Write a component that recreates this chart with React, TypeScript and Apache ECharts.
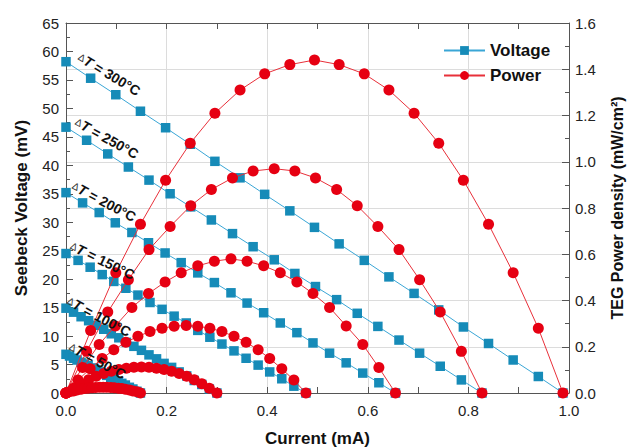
import React, { useEffect, useRef } from 'react';
import * as echarts from 'echarts';

// Current (mA), Seebeck voltage (mV), power density (mW/cm2) for each ΔT
const current300 = [0, 0.049, 0.099, 0.148, 0.198, 0.247, 0.296, 0.346, 0.395, 0.445, 0.494, 0.543, 0.593, 0.642, 0.692, 0.741, 0.790, 0.840, 0.889, 0.939, 0.988];
const voltage300 = [58.2, 55.3, 52.4, 49.5, 46.6, 43.7, 40.7, 37.8, 34.9, 32.0, 29.1, 26.2, 23.3, 20.4, 17.5, 14.6, 11.6, 8.7, 5.8, 2.9, 0];
const power300 = [0, 0.27, 0.52, 0.73, 0.92, 1.08, 1.21, 1.31, 1.38, 1.42, 1.44, 1.42, 1.38, 1.31, 1.21, 1.08, 0.92, 0.73, 0.52, 0.28, 0];

const current250 = [0, 0.041, 0.083, 0.124, 0.165, 0.207, 0.248, 0.289, 0.331, 0.372, 0.414, 0.455, 0.496, 0.538, 0.579, 0.620, 0.662, 0.703, 0.744, 0.786, 0.827];
const voltage250 = [46.7, 44.4, 42.0, 39.7, 37.4, 35.0, 32.7, 30.4, 28.0, 25.7, 23.4, 21.0, 18.7, 16.4, 14.0, 11.7, 9.3, 7.0, 4.7, 2.3, 0];
const power250 = [0, 0.18, 0.35, 0.49, 0.62, 0.72, 0.81, 0.88, 0.93, 0.96, 0.97, 0.96, 0.93, 0.88, 0.81, 0.72, 0.62, 0.49, 0.35, 0.18, 0];

const current200 = [0, 0.033, 0.066, 0.098, 0.131, 0.164, 0.197, 0.229, 0.262, 0.295, 0.328, 0.360, 0.393, 0.426, 0.459, 0.491, 0.524, 0.557, 0.590, 0.622, 0.655];
const voltage200 = [35.2, 33.4, 31.7, 29.9, 28.2, 26.4, 24.6, 22.9, 21.1, 19.4, 17.6, 15.8, 14.1, 12.3, 10.6, 8.8, 7.0, 5.3, 3.5, 1.8, 0];
const power200 = [0, 0.11, 0.21, 0.29, 0.37, 0.43, 0.48, 0.52, 0.55, 0.57, 0.58, 0.57, 0.55, 0.52, 0.48, 0.43, 0.37, 0.29, 0.21, 0.11, 0];

const current150 = [0, 0.024, 0.048, 0.072, 0.095, 0.119, 0.143, 0.167, 0.191, 0.215, 0.239, 0.262, 0.286, 0.310, 0.334, 0.358, 0.382, 0.405, 0.429, 0.453, 0.477];
const voltage150 = [24.5, 23.3, 22.1, 20.8, 19.6, 18.4, 17.2, 15.9, 14.7, 13.5, 12.3, 11.0, 9.8, 8.6, 7.4, 6.1, 4.9, 3.7, 2.5, 1.2, 0];
const power150 = [0, 0.056, 0.105, 0.149, 0.187, 0.219, 0.245, 0.266, 0.280, 0.289, 0.292, 0.289, 0.280, 0.266, 0.245, 0.219, 0.187, 0.149, 0.105, 0.056, 0];

const current100 = [0, 0.015, 0.030, 0.045, 0.060, 0.075, 0.090, 0.105, 0.120, 0.135, 0.150, 0.165, 0.180, 0.195, 0.210, 0.225, 0.240, 0.255, 0.270, 0.285, 0.300];
const voltage100 = [14.9, 14.2, 13.4, 12.7, 11.9, 11.2, 10.4, 9.7, 8.9, 8.2, 7.5, 6.7, 6.0, 5.2, 4.5, 3.7, 3.0, 2.2, 1.5, 0.7, 0];
const power100 = [0, 0.021, 0.040, 0.057, 0.072, 0.084, 0.094, 0.102, 0.107, 0.111, 0.112, 0.111, 0.107, 0.102, 0.094, 0.084, 0.072, 0.057, 0.040, 0.021, 0];

const current50 = [0, 0.007, 0.015, 0.022, 0.030, 0.037, 0.044, 0.052, 0.059, 0.067, 0.074, 0.081, 0.089, 0.096, 0.104, 0.111, 0.118, 0.126, 0.133, 0.141, 0.148];
const voltage50 = [6.8, 6.5, 6.1, 5.8, 5.4, 5.1, 4.8, 4.4, 4.1, 3.7, 3.4, 3.1, 2.7, 2.4, 2.0, 1.7, 1.4, 1.0, 0.7, 0.3, 0];
const power50 = [0, 0.005, 0.009, 0.013, 0.016, 0.019, 0.021, 0.023, 0.024, 0.025, 0.025, 0.025, 0.024, 0.023, 0.021, 0.019, 0.016, 0.013, 0.009, 0.005, 0];

const deltaTs = ['300', '250', '200', '150', '100', '50'];
const currents = [current300, current250, current200, current150, current100, current50];
const voltages = [voltage300, voltage250, voltage200, voltage150, voltage100, voltage50];
const powers = [power300, power250, power200, power150, power100, power50];

const legendNames = ['Voltage', 'Power'];

const FONT = 'Arial, "Liberation Sans", Helvetica, sans-serif';
const BLUE_MARK = '#168bb8';
const BLUE_LINE = '#3aa6d6';
const RED_MARK = '#e60012';
const RED_LINE = '#e8303a';
const AXIS = '#555';

// label placement (left-middle anchor, rotation in degrees)
const labelPlacement = [
  { x: 79, y: 56, r: 31 },
  { x: 76, y: 121, r: 29 },
  { x: 73, y: 185, r: 28 },
  { x: 71, y: 245, r: 26 },
  { x: 68, y: 300, r: 28 },
  { x: 70, y: 346, r: 28 },
];

export default function App() {
  const ref = useRef<HTMLDivElement>(null);
  useEffect(() => {
    const chart = echarts.init(ref.current!, null, { renderer: 'svg' });

    const voltageSeries = deltaTs.map((t, i) => ({
      type: 'line',
      name: legendNames[0],
      xAxisIndex: 0,
      yAxisIndex: 0,
      data: currents[i].map((c, k) => [c, voltages[i][k]]),
      symbol: 'rect',
      symbolSize: 9.5,
      lineStyle: { color: BLUE_LINE, width: 1 },
      itemStyle: { color: BLUE_MARK },
      z: 2,
    }));
    const powerSeries = deltaTs.map((t, i) => ({
      type: 'line',
      name: legendNames[1],
      xAxisIndex: 0,
      yAxisIndex: 1,
      data: currents[i].map((c, k) => [c, powers[i][k]]),
      symbol: 'circle',
      symbolSize: 11,
      lineStyle: { color: RED_LINE, width: 1 },
      itemStyle: { color: RED_MARK },
      z: 3,
    }));

    const graphics = deltaTs.map((t, i) => ({
      type: 'text',
      x: labelPlacement[i].x,
      y: labelPlacement[i].y,
      rotation: -labelPlacement[i].r * Math.PI / 180,
      z: 10,
      style: {
        text: `{d|Δ}{t|T}{n| = ${t}°C}`,
        align: 'left',
        verticalAlign: 'middle',
        fill: '#111',
        fontFamily: FONT,
        rich: {
          d: { fontSize: 10, fontWeight: 'normal', fill: '#333', fontFamily: FONT },
          t: { fontSize: 14, fontWeight: 'bold', fontStyle: 'italic', fill: '#111', fontFamily: FONT },
          n: { fontSize: 14, fontWeight: 'bold', fill: '#111', fontFamily: FONT },
        },
      },
    }));

    const axisLine = { show: true, onZero: false, lineStyle: { color: AXIS, width: 1 } };

    chart.setOption({
      animation: false,
      textStyle: { fontFamily: FONT },
      grid: { left: 66, right: 59, top: 23, bottom: 55, containLabel: false, outerBoundsMode: 'none' },
      legend: {
        data: legendNames,
        orient: 'vertical',
        left: 443,
        top: 42,
        itemWidth: 41,
        itemHeight: 11,
        itemGap: 8,
        padding: 0,
        textStyle: { fontWeight: 'bold', fontSize: 17, color: '#111', fontFamily: FONT },
      },
      xAxis: [
        {
          type: 'value', min: 0, max: 1, interval: 0.2, position: 'bottom',
          axisLine,
          axisTick: { show: true, inside: true, length: 6, lineStyle: { color: AXIS } },
          minorTick: { show: true, splitNumber: 2, length: 6, lineStyle: { color: AXIS } },
          axisLabel: { formatter: (v: number) => v.toFixed(1), fontSize: 15, color: '#222', margin: 10 },
          splitLine: { show: true, lineStyle: { color: '#dcdcdc', width: 1 } },
          name: 'Current (mA)', nameLocation: 'middle', nameGap: 37,
          nameTextStyle: { fontWeight: 'bold', fontSize: 17, color: '#111', fontFamily: FONT },
        },
        {
          type: 'value', min: 0, max: 1, interval: 0.1, position: 'top',
          axisLine,
          axisTick: { show: true, inside: true, length: 6, lineStyle: { color: AXIS } },
          axisLabel: { show: false },
          splitLine: { show: false },
        },
      ],
      yAxis: [
        {
          type: 'value', min: 0, max: 65, interval: 5, position: 'left',
          axisLine,
          axisTick: { show: true, inside: true, length: 7, lineStyle: { color: AXIS } },
          minorTick: { show: true, splitNumber: 2, length: 4, lineStyle: { color: AXIS } },
          axisLabel: { fontSize: 15, color: '#222', margin: 7 },
          splitLine: { show: false },
          name: 'Seebeck Voltage (mV)', nameLocation: 'middle', nameGap: 36,
          nameTextStyle: { fontWeight: 'bold', fontSize: 17, color: '#111', fontFamily: FONT },
        },
        {
          type: 'value', min: 0, max: 1.6, interval: 0.2, position: 'right',
          axisLine,
          axisTick: { show: true, inside: true, length: 7, lineStyle: { color: AXIS } },
          minorTick: { show: true, splitNumber: 2, length: 4, lineStyle: { color: AXIS } },
          axisLabel: { formatter: (v: number) => v.toFixed(1), fontSize: 15, color: '#222', margin: 6 },
          splitLine: { show: true, lineStyle: { color: '#dcdcdc', width: 1 } },
          name: 'TEG Power density (mW/cm²)', nameLocation: 'middle', nameGap: 40,
          nameTextStyle: { fontWeight: 'bold', fontSize: 16, color: '#111', fontFamily: FONT },
        },
      ],
      series: [...voltageSeries, ...powerSeries],
      graphic: graphics,
    });
    return () => chart.dispose();
  }, []);
  return <div ref={ref} style={{ position: 'absolute', left: 0, top: 0, width: 628, height: 448 }} />;
}
